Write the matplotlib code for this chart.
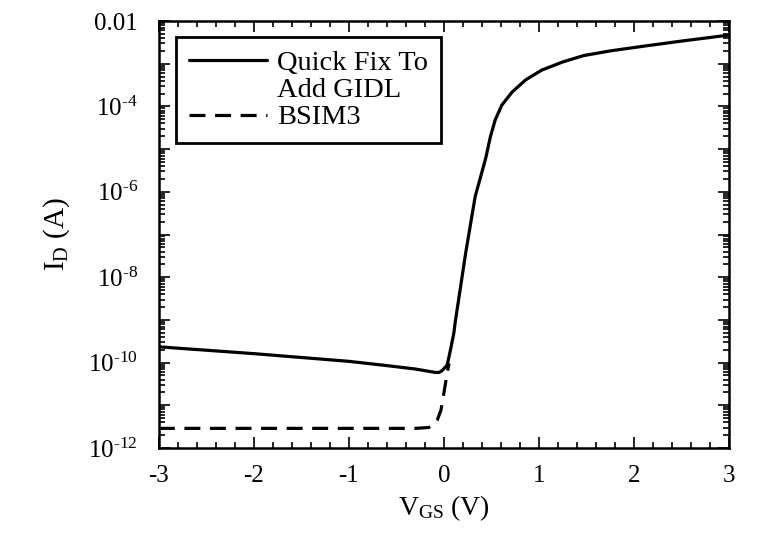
import math
import matplotlib
matplotlib.use("Agg")
import matplotlib.pyplot as plt
from matplotlib.lines import Line2D
from matplotlib.ticker import LogLocator, FuncFormatter, MultipleLocator, NullFormatter

plt.rcParams['font.family'] = ['Liberation Serif', 'DejaVu Serif']
plt.rcParams['mathtext.fontset'] = 'custom'
plt.rcParams['mathtext.rm'] = 'Liberation Serif'
plt.rcParams['mathtext.it'] = 'Liberation Serif:italic'

# Quick fix (with GIDL) curve: V_GS and log10(I_D)
gidl_vgs = [-3.0, -2.5, -2.0, -1.5, -1.0, -0.6, -0.3, -0.09, -0.05, -0.02, 0.035, 0.07,
            0.105, 0.12, 0.23, 0.33, 0.44, 0.49, 0.54, 0.61, 0.72, 0.86,
            1.03, 1.25, 1.47, 1.75, 2.1, 2.5, 3.0]
gidl_log = [-9.63, -9.71, -9.79, -9.88, -9.97, -10.07, -10.15, -10.23, -10.23, -10.19,
            -10.06, -9.70, -9.31, -9.05, -7.43, -6.11, -5.22, -4.71, -4.32,
            -3.97, -3.66, -3.38, -3.15, -2.96, -2.81, -2.70, -2.59, -2.47, -2.33]

# BSIM3 curve: V_GS and log10(I_D)
bsim_vgs = [-3.0, -2.0, -1.0, -0.3, -0.16, -0.12, -0.07, -0.03, 0.0, 0.035, 0.055]
bsim_log = [-11.54, -11.54, -11.54, -11.54, -11.52, -11.48, -11.35, -11.11, -10.72, -10.25, -10.02]

series_labels = ["Quick Fix To", "Add GIDL", "BSIM3"]
x_ticks = [-3, -2, -1, 0, 1, 2, 3]

gidl_i = [10 ** v for v in gidl_log]
bsim_i = [10 ** v for v in bsim_log]

fig = plt.figure(figsize=(7.6, 5.35), dpi=100)
ax = fig.add_axes([0.209, 0.1626, 0.75, 0.7981])

l1, = ax.plot(gidl_vgs, gidl_i, color='black', lw=2.3, solid_capstyle='round',
              solid_joinstyle='round')
l2, = ax.plot(bsim_vgs, bsim_i, color='black', lw=2.3, linestyle=(0, (5, 3)))

ax.set_yscale('log')
ax.set_xlim(-3, 3)
ax.set_ylim(1e-12, 1e-2)

ax.set_xticks(x_ticks)
ax.xaxis.set_minor_locator(MultipleLocator(0.2))
ax.yaxis.set_major_locator(LogLocator(base=10, numticks=20))
ax.yaxis.set_minor_locator(LogLocator(base=10, subs=range(2, 10), numticks=100))
ax.yaxis.set_minor_formatter(NullFormatter())

def yfmt(v, pos):
    e = int(round(math.log10(v)))
    if e == -2:
        return '0.01'
    if e % 2 == 0:
        return r'$10^{\text{-%d}}$' % (-e)
    return ''

ax.yaxis.set_major_formatter(FuncFormatter(yfmt))
ax.xaxis.set_major_formatter(FuncFormatter(lambda v, p: '%d' % v))

ax.tick_params(which='both', direction='in', top=True, right=True, labelsize=18,
               width=1.2, colors='black')
ax.tick_params(which='major', length=8)
ax.tick_params(which='minor', length=4)
ax.tick_params(axis='x', pad=12)
ax.tick_params(axis='y', pad=15)
for s in ax.spines.values():
    s.set_linewidth(1.8)

ax.set_xlabel(r'V$_{\mathrm{GS}}$ (V)', fontsize=20, labelpad=5)
ax.set_ylabel(r'I$_{\mathrm{D}}$ (A)', fontsize=21, labelpad=12)

blank = Line2D([], [], color='none')
leg = ax.legend([l1, blank, l2], series_labels, loc='upper left',
                bbox_to_anchor=(0.03, 0.9625), fontsize=20.5, frameon=True,
                fancybox=False, edgecolor='black', framealpha=1,
                handlelength=2.75, handletextpad=0.35, labelspacing=0.05,
                borderpad=0.45, borderaxespad=0)
leg.get_frame().set_linewidth(2.0)

fig.savefig('out.png', dpi=100)
